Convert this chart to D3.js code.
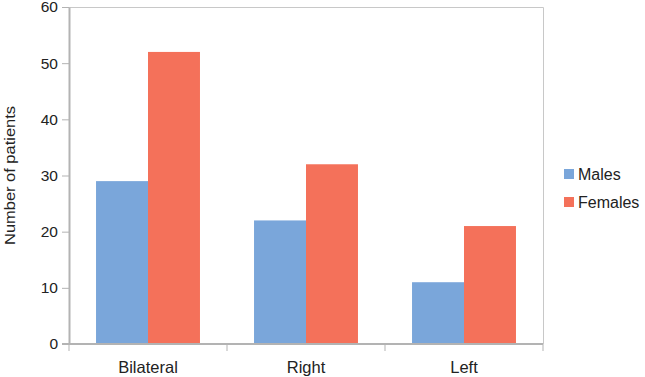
<!DOCTYPE html>
<html>
<head>
<meta charset="utf-8">
<script src="https://cdn.jsdelivr.net/npm/d3@7"></script>
<style>
  body { margin: 0; background: #fff; }
  svg text { font-family: "Liberation Sans", Arial, sans-serif; fill: #222; }
</style>
</head>
<body>
<div id="chart"></div>
<script>
// data
var categories = ["Bilateral", "Right", "Left"];
var seriesNames = ["Males", "Females"];
var males = [29, 22, 11];
var females = [52, 32, 21];
var yTicks = [0, 10, 20, 30, 40, 50, 60];
var colors = ["#7aa6da", "#f4715a"];

var w_full = 645, h_full = 377;
var margin = { top: 7, right: 102, bottom: 33, left: 69 };
var w = w_full - margin.left - margin.right;
var h = h_full - margin.top - margin.bottom;

var svg = d3.select("#chart").append("svg")
    .attr("width", w_full)
    .attr("height", h_full);

var g = svg.append("g")
    .attr("transform", "translate(" + margin.left + "," + margin.top + ")");

var x = d3.scaleBand()
    .domain(categories)
    .range([0, w])
    .paddingInner(0)
    .paddingOuter(0);

var xInner = d3.scaleBand()
    .domain(seriesNames)
    .range([0, x.bandwidth()])
    .paddingInner(0)
    .paddingOuter(0.52);

var y = d3.scaleLinear()
    .domain([0, 60])
    .range([h, 0]);

// plot border (top, right)
g.append("path")
    .attr("d", "M0,0.5H" + (w + 0.5) + "V" + h)
    .attr("fill", "none")
    .attr("stroke", "#c8c8c8");

// bars
var rows = categories.map(function(c, i) {
    return { cat: c, values: [males[i], females[i]] };
});

g.selectAll(".grp")
    .data(rows)
    .enter().append("g")
    .attr("transform", function(d) { return "translate(" + x(d.cat) + ",0)"; })
    .selectAll("rect")
    .data(function(d) { return d.values.map(function(v, j) { return { s: seriesNames[j], v: v, j: j }; }); })
    .enter().append("rect")
    .attr("x", function(d) { return xInner(d.s); })
    .attr("y", function(d) { return y(d.v); })
    .attr("width", xInner.bandwidth())
    .attr("height", function(d) { return h - y(d.v); })
    .attr("fill", function(d) { return colors[d.j]; });

// y axis
var yAxis = g.append("g")
    .call(d3.axisLeft(y).tickValues(yTicks).tickSize(7).tickSizeOuter(0).tickPadding(4));
yAxis.select(".domain").attr("stroke", "#b3b3b3").attr("stroke-width", 2);
yAxis.selectAll(".tick line").attr("stroke", "#b3b3b3");
yAxis.selectAll("text").style("font-size", "15.5px").style("fill", "#222");

// x axis with ticks at category boundaries
var xAxis = g.append("g")
    .attr("transform", "translate(0," + h + ")");
xAxis.append("line")
    .attr("x1", -7).attr("x2", w)
    .attr("stroke", "#b3b3b3").attr("stroke-width", 2);
var bounds = categories.map(function(c) { return x(c); }).concat([w]);
xAxis.selectAll(".bt")
    .data(bounds)
    .enter().append("line")
    .attr("x1", function(d) { return d; })
    .attr("x2", function(d) { return d; })
    .attr("y1", 0).attr("y2", 7)
    .attr("stroke", "#b3b3b3");
xAxis.selectAll(".lbl")
    .data(categories)
    .enter().append("text")
    .attr("x", function(d) { return x(d) + x.bandwidth() / 2; })
    .attr("y", 29)
    .attr("text-anchor", "middle")
    .style("font-size", "16.5px")
    .text(function(d) { return d; });

// y label
svg.append("text")
    .attr("transform", "translate(15," + (margin.top + h / 2) + ") rotate(-90)")
    .attr("text-anchor", "middle")
    .style("font-size", "15.5px")
    .attr("textLength", 139)
    .attr("lengthAdjust", "spacingAndGlyphs")
    .text("Number of patients");

// legend
var legend = svg.append("g").attr("transform", "translate(564,169)");
seriesNames.forEach(function(s, i) {
    legend.append("rect")
        .attr("x", 0).attr("y", i * 28)
        .attr("width", 10).attr("height", 10)
        .attr("fill", colors[i]);
    legend.append("text")
        .attr("x", 14).attr("y", i * 28 + 11)
        .style("font-size", "16px")
        .text(s);
});
</script>
</body>
</html>
